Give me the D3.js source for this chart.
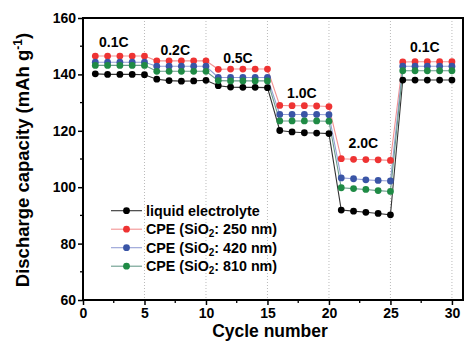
<!DOCTYPE html>
<html><head><meta charset="utf-8">
<script src="https://cdn.jsdelivr.net/npm/d3@7/dist/d3.min.js"></script>
<style>
html,body{margin:0;padding:0;background:#fff;}
svg{display:block;font-family:"Liberation Sans",Arial,sans-serif;font-weight:bold;}
</style></head><body>
<svg id="c" width="464" height="354"></svg>
<script>
const cycles = [1,2,3,4,5,6,7,8,9,10,11,12,13,14,15,16,17,18,19,20,21,22,23,24,25,26,27,28,29,30];
const liquid = [140.2,140.0,140.0,140.0,139.9, 138.3,137.8,137.6,137.7,137.9, 136.0,135.5,135.4,135.4,135.3, 120.1,119.6,119.3,119.2,119.0, 91.9,91.5,91.1,90.7,90.2, 138.0,138.0,138.0,138.0,138.0];
const cpe250 = [146.5,146.5,146.5,146.5,146.5, 144.8,144.8,144.8,144.8,144.8, 141.8,141.9,141.9,141.9,141.9, 129.0,128.9,128.9,128.8,128.6, 110.1,109.9,109.8,109.7,109.5, 144.4,144.5,144.5,144.5,144.5];
const cpe420 = [144.3,144.3,144.3,144.3,144.3, 142.9,142.9,142.9,142.9,142.9, 138.9,138.9,138.9,138.9,138.9, 125.8,125.8,125.8,125.8,125.7, 103.3,103.0,102.6,102.4,102.2, 142.9,142.9,142.9,142.9,142.9];
const cpe810 = [143.2,143.2,143.2,143.2,143.2, 141.1,141.1,141.1,141.1,141.1, 137.8,137.7,137.7,137.7,137.7, 123.5,123.5,123.5,123.5,123.4, 99.8,99.5,99.2,98.8,98.5, 141.3,141.3,141.3,141.3,141.3];
const seriesNames = ["liquid electrolyte","CPE (SiO2: 250 nm)","CPE (SiO2: 420 nm)","CPE (SiO2: 810 nm)"];
const rateLabels = ["0.1C","0.2C","0.5C","1.0C","2.0C","0.1C"];
const rateLabelX = [2.5, 7.5, 12.6, 17.8, 22.8, 27.8];
const rateLabelY = [151.5, 148.7, 145.8, 133.4, 115.7, 149.6];
const xTicks = [0,5,10,15,20,25,30];
const yTicks = [60,80,100,120,140,160];

const dotColors = ["#000000","#ee3333","#3a55a6","#1f8b45"];
const lineColors = ["#333333","#f39393","#95a0d6","#6a9c8c"];
const data = [liquid, cpe250, cpe420, cpe810];

const svg = d3.select("#c");
const L = 83, R = 463, T = 18, B = 300;
const x = d3.scaleLinear().domain([0, 30.9]).range([L, R]);
const y = d3.scaleLinear().domain([60, 160]).range([B, T]);

// vertical dotted grid
svg.append("g").selectAll("line").data(xTicks.filter(d => d > 0)).join("line")
  .attr("x1", d => x(d)).attr("x2", d => x(d)).attr("y1", T).attr("y2", B)
  .attr("stroke", "#bbbbbb").attr("stroke-width", 1).attr("stroke-dasharray", "1,2");

// minor ticks
const xMinor = d3.range(2.5, 31, 5);
const yMinor = d3.range(70, 160, 20);
svg.append("g").selectAll("line").data(xMinor).join("line")
  .attr("x1", d => x(d)).attr("x2", d => x(d)).attr("y1", B).attr("y2", B + 3)
  .attr("stroke", "#000").attr("stroke-width", 1.3);
svg.append("g").selectAll("line").data(yMinor).join("line")
  .attr("y1", d => y(d)).attr("y2", d => y(d)).attr("x1", L).attr("x2", L - 3)
  .attr("stroke", "#000").attr("stroke-width", 1.3);

// axes
const xAxis = svg.append("g").attr("transform", `translate(0,${B})`)
  .call(d3.axisBottom(x).tickValues(xTicks).tickSize(5).tickPadding(3));
const yAxis = svg.append("g").attr("transform", `translate(${L},0)`)
  .call(d3.axisLeft(y).tickValues(yTicks).tickSize(5).tickPadding(2));
[xAxis, yAxis].forEach(g => {
  g.select(".domain").remove();
  g.selectAll("line").attr("stroke", "#000").attr("stroke-width", 1.5);
  g.selectAll("text").attr("font-size", 14).attr("font-weight", "bold")
    .attr("font-family", '"Liberation Sans",Arial,sans-serif').attr("fill", "#000");
});

// frame
svg.append("rect").attr("x", L).attr("y", T).attr("width", R - L).attr("height", B - T)
  .attr("fill", "none").attr("stroke", "#000").attr("stroke-width", 2);

// series
const line = d3.line().x((d, i) => x(cycles[i])).y(d => y(d));
data.forEach((s, k) => {
  svg.append("path").datum(s).attr("d", line).attr("fill", "none")
    .attr("stroke", lineColors[k]).attr("stroke-width", 1.1);
});
data.forEach((s, k) => {
  svg.append("g").selectAll("circle").data(s).join("circle")
    .attr("cx", (d, i) => x(cycles[i])).attr("cy", d => y(d)).attr("r", 3.4)
    .attr("fill", dotColors[k]);
});

// rate labels
svg.append("g").selectAll("text").data(rateLabels).join("text")
  .attr("x", (d, i) => x(rateLabelX[i])).attr("y", (d, i) => y(rateLabelY[i]))
  .attr("dy", "0.36em").attr("text-anchor", "middle").attr("font-size", 14).text(d => d);

// legend
const lg = svg.append("g");
const lx = 111, ly = 210.7, dyL = 18.5;
seriesNames.forEach((name, k) => {
  const yy = ly + k * dyL;
  lg.append("line").attr("x1", lx).attr("x2", lx + 31).attr("y1", yy).attr("y2", yy)
    .attr("stroke", lineColors[k]).attr("stroke-width", 1.1);
  lg.append("circle").attr("cx", lx + 15.5).attr("cy", yy).attr("r", 3.4).attr("fill", dotColors[k]);
  const t = lg.append("text").attr("x", lx + 35).attr("y", yy).attr("dy", "0.36em").attr("font-size", 14.3);
  const m = name.match(/^(.*SiO)2(.*)$/);
  if (m) {
    t.append("tspan").text(m[1]);
    t.append("tspan").attr("font-size", 10).attr("dy", 3).text("2");
    t.append("tspan").attr("dy", -3).text(m[2]);
  } else t.text(name);
});

// axis titles
svg.append("text").attr("x", (L + R) / 2 - 3).attr("y", 337).attr("text-anchor", "middle")
  .attr("font-size", 17.5).text("Cycle number");
const yt = svg.append("text").attr("transform", `translate(29,${(T + B) / 2 + 1}) rotate(-90)`)
  .attr("text-anchor", "middle").attr("font-size", 18.5);
yt.append("tspan").text("Discharge capacity (mAh g");
yt.append("tspan").attr("font-size", 12).attr("dy", -7).text("-1");
yt.append("tspan").attr("dy", 7).text(")");
</script>
</body></html>
